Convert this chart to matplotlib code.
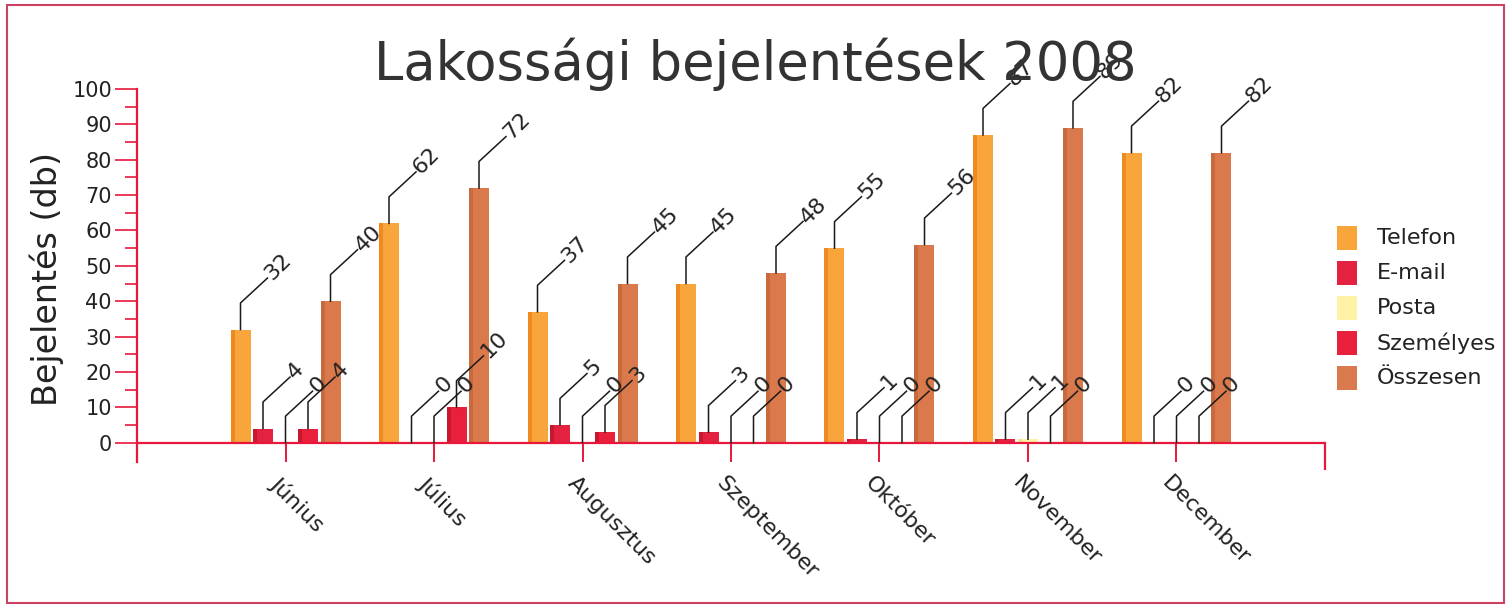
import numpy as np
import matplotlib
matplotlib.use("Agg")
import matplotlib.pyplot as plt
from matplotlib.patches import Rectangle

months = ["Június", "Július", "Augusztus", "Szeptember", "Október", "November", "December"]
series_names = ["Telefon", "E-mail", "Posta", "Személyes", "Összesen"]
telefon = [32, 62, 37, 45, 55, 87, 82]
email = [4, 0, 5, 3, 1, 1, 0]
posta = [0, 0, 0, 0, 0, 1, 0]
szemelyes = [4, 10, 3, 0, 0, 0, 0]
osszesen = [40, 72, 45, 48, 56, 89, 82]
y_ticks = list(range(0, 101, 10))

series = [telefon, email, posta, szemelyes, osszesen]
colors = ["#F8A63C", "#E2223E", "#FFF1A6", "#E8203C", "#DA7A4C"]
edge_dark = ["#F08A20", "#C81830", "#F5E28A", "#C81830", "#C86A3E"]

W, H = 1511, 605
fig = plt.figure(figsize=(W / 100, H / 100), dpi=100)
fig.patch.set_facecolor("white")

ymin = -7.3
ax = fig.add_axes([137 / W, 1 - 468.5 / H, (1325 - 137) / W, (468.5 - 89) / H])
ax.set_xlim(-1, 7)
ax.set_ylim(ymin, 100)

red = "#E8183C"
txt = "#222222"
x = np.arange(len(months))
slot = 22.5 / 148.5
bw = 20 / 148.5
offsets = (np.arange(len(series)) - 2) * slot

# bars
for k, (vals, c, ec) in enumerate(zip(series, colors, edge_dark)):
    xs = x + offsets[k]
    ax.bar(xs, vals, width=bw, color=c, edgecolor="none", zorder=3)
    ax.bar(xs - bw * 0.4, vals, width=bw * 0.2, color=ec, edgecolor="none", zorder=3.1)

# axis lines
ax.axhline(0, color=red, lw=1.6, zorder=4)
for s in ["top", "bottom"]:
    ax.spines[s].set_visible(False)
ax.spines["left"].set_color(red)
ax.spines["left"].set_linewidth(1.6)
ax.spines["left"].set_bounds(-5.6, 100)
ax.spines["right"].set_color(red)
ax.spines["right"].set_linewidth(1.6)
ax.spines["right"].set_bounds(ymin, 0)

ax.set_yticks(y_ticks)
ax.set_yticks(np.arange(5, 100, 10), minor=True)
ax.tick_params(axis="y", which="major", length=16, width=1.2, color=red, pad=2,
               labelsize=15, labelcolor=txt)
ax.tick_params(axis="y", which="minor", length=8.5, width=1.2, color=red)
ax.set_xticks([])

# category ticks and labels
ax.vlines(x, -5.6, 0, color=red, lw=1.4, zorder=4)
for xi, m in zip(x, months):
    ax.text(xi - 0.03, -8.6, m, rotation=-45, rotation_mode="anchor",
            ha="left", va="top", fontsize=16, color=txt)

ax.set_ylabel("Bejelentés (db)", fontsize=24, color=txt, labelpad=6)

# data labels with leader lines
dy = 7.5
dx = 27 / 148.5
for k, vals in enumerate(series):
    for xi, v in zip(x, vals):
        bx = xi + offsets[k]
        ax.plot([bx, bx, bx + dx], [v, v + dy, v + 2 * dy * 0.97], color="#1a1a1a",
                lw=1.1, zorder=5, clip_on=False)
        ax.text(bx + dx + 0.005, v + 2 * dy * 0.97 + 0.3, str(v), rotation=45,
                rotation_mode="anchor", ha="left", va="center", fontsize=16,
                color=txt, zorder=6, clip_on=False)

# legend
leg_y = [238, 273, 308, 343, 378]
for name, c, yy in zip(series_names, colors, leg_y):
    fig.patches.append(Rectangle((1337 / W, 1 - (yy + 12) / H), 20 / W, 24 / H,
                                 transform=fig.transFigure, facecolor=c, edgecolor="none"))
    fig.text(1377 / W, 1 - yy / H, name, ha="left", va="center", fontsize=16, color=txt)

fig.text(0.5, 1 - 64 / H, "Lakossági bejelentések 2008", ha="center", va="center",
         fontsize=38, color="#333333")

# outer border
fig.patches.append(Rectangle((7 / W, 2 / H), (1504 - 7) / W, (600 - 2) / H,
                             transform=fig.transFigure, facecolor="none",
                             edgecolor="#CC4262", lw=1.5))

fig.savefig("out.png", dpi=100)
